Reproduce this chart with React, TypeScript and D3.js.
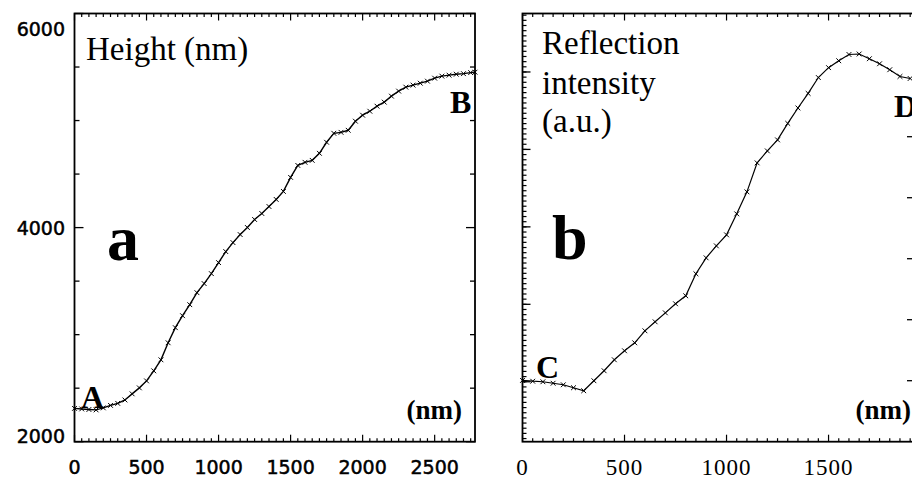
import React from 'react';
import * as d3 from 'd3';

// Panel a: height profile (nm)
const heightX = [0, 50, 100, 150, 200, 250, 300, 350, 400, 450, 500, 550, 600, 650, 700, 750, 800, 850, 900, 950, 1000, 1050, 1100, 1150, 1200, 1250, 1300, 1350, 1400, 1450, 1500, 1550, 1600, 1650, 1700, 1750, 1800, 1850, 1900, 1950, 2000, 2050, 2100, 2150, 2200, 2250, 2300, 2350, 2400, 2450, 2500, 2550, 2600, 2650, 2700, 2750, 2780];
const heightNm = [2311, 2306, 2301, 2297, 2316, 2339, 2358, 2390, 2447, 2503, 2568, 2662, 2765, 2924, 3065, 3177, 3280, 3392, 3477, 3570, 3673, 3776, 3860, 3935, 4001, 4076, 4132, 4197, 4263, 4338, 4469, 4581, 4610, 4628, 4694, 4797, 4881, 4890, 4909, 4994, 5050, 5087, 5134, 5172, 5228, 5275, 5312, 5331, 5349, 5368, 5396, 5415, 5424, 5433, 5438, 5448, 5452];

// Panel b: reflection intensity (a.u.)
const reflX = [0, 50, 100, 150, 200, 250, 300, 350, 400, 450, 500, 550, 600, 650, 700, 750, 800, 850, 900, 950, 1000, 1050, 1100, 1150, 1200, 1250, 1300, 1350, 1400, 1450, 1500, 1550, 1600, 1650, 1700, 1750, 1800, 1850, 1900];
const reflAU = [1.017, 1.007, 1.0, 0.981, 0.961, 0.923, 0.884, 1.013, 1.142, 1.284, 1.4, 1.503, 1.658, 1.774, 1.89, 2.007, 2.11, 2.394, 2.6, 2.755, 2.897, 3.168, 3.452, 3.826, 3.981, 4.123, 4.336, 4.535, 4.723, 4.928, 5.056, 5.145, 5.226, 5.232, 5.171, 5.106, 5.029, 4.942, 4.916];

const heightYLabels = [2000, 4000, 6000];
const heightXLabels = [0, 500, 1000, 1500, 2000, 2500];
const reflXLabels = [0, 500, 1000, 1500];

const W = 912;
const H = 483;
const TOP = 13.5;
const BOT = 441.7;

function Cross({ x, y }: { x: number; y: number }) {
  const s = 2.4;
  return (
    <path d={`M${x - s},${y - s}L${x + s},${y + s}M${x - s},${y + s}L${x + s},${y - s}`} stroke="#000" strokeWidth={1} />
  );
}

export default function App() {
  // Panel a scales
  const xA = d3.scaleLinear().domain([0, 2780]).range([74.5, 475]);
  const yA = d3.scaleLinear().domain([2000, 6000]).range([BOT, TOP]);
  // Panel b scales
  const xB = d3.scaleLinear().domain([0, 1909]).range([522.5, 912]);
  const yB = d3.scaleLinear().domain([0.226, 5.755]).range([BOT, TOP]);
  const yB2 = d3.scaleLinear().domain([0, 7.02]).range([BOT, TOP]);

  const lineA = d3.line<number>().x((_, i) => xA(heightX[i])).y((d) => yA(d));
  const lineB = d3.line<number>().x((_, i) => xB(reflX[i])).y((d) => yB(d));

  const aL = xA(0), aR = xA(2780);
  const bL = xB(0), bR = 930;

  const aXMinor = d3.range(0, 2781, 50);
  const aYMinor = d3.range(2000, 6001, 500);
  const bXMinor = d3.range(0, 1951, 50);
  const bYMinor = d3.range(4, 87).map((k) => k / 15).filter((v) => v >= 0.226 && v <= 5.755);
  const bYMajor = [1, 2, 3, 4, 5];
  const bY2Major = [1, 2, 3, 4, 5];

  const tickFontA: React.CSSProperties = { fontFamily: 'DejaVu Sans', fontSize: 19 };
  const tickFontB: React.CSSProperties = { fontFamily: 'Liberation Serif', fontSize: 23, letterSpacing: 1 };
  const serif = 'Liberation Serif';

  return (
    <svg width={W} height={H} style={{ position: 'absolute', left: 0, top: 0, background: '#fff' }}>
      <rect x={0} y={0} width={W} height={H} fill="#fff" />
      {/* ---------- Panel a ---------- */}
      <g>
        {aXMinor.map((v) => {
          const major = v % 500 === 0;
          const len = major ? 7 : 3.5;
          return (
            <g key={`ax${v}`}>
              <line x1={xA(v)} x2={xA(v)} y1={BOT} y2={BOT - len} stroke="#000" strokeWidth={1.2} />
              <line x1={xA(v)} x2={xA(v)} y1={TOP} y2={TOP + len} stroke="#000" strokeWidth={1.2} />
            </g>
          );
        })}
        {aYMinor.map((v) => {
          const major = v % 2000 === 0;
          const len = major ? 9 : 5;
          return (
            <g key={`ay${v}`}>
              <line x1={aL} x2={aL + len} y1={yA(v)} y2={yA(v)} stroke="#000" strokeWidth={1.3} />
              <line x1={aR} x2={aR - len} y1={yA(v)} y2={yA(v)} stroke="#000" strokeWidth={1.3} />
            </g>
          );
        })}
        <rect x={aL} y={TOP} width={aR - aL} height={BOT - TOP} fill="none" stroke="#000" strokeWidth={1.8} />
        {heightXLabels.map((v) => (
          <text key={`axl${v}`} x={xA(v)} y={474} textAnchor="middle" style={tickFontA} fill="#000" stroke="#000" strokeWidth={0.5}>
            {v}
          </text>
        ))}
        {heightYLabels.map((v) => (
          <text
            key={`ayl${v}`}
            x={65}
            y={v === 6000 ? yA(v) + 22 : v === 2000 ? yA(v) + 1.5 : yA(v) + 7}
            textAnchor="end"
            style={tickFontA}
            fill="#000"
            stroke="#000"
            strokeWidth={0.5}
          >
            {v}
          </text>
        ))}
        <path d={lineA(heightNm) || ''} fill="none" stroke="#000" strokeWidth={1.4} />
        {heightNm.map((d, i) => (
          <Cross key={`ac${i}`} x={xA(heightX[i])} y={yA(d)} />
        ))}
        <text x={86} y={60} style={{ fontFamily: serif, fontSize: 33 }} fill="#000">Height (nm)</text>
        <text x={107} y={260} style={{ fontFamily: serif, fontSize: 64, fontWeight: 'bold' }} fill="#000">a</text>
        <text x={81} y={408} style={{ fontFamily: serif, fontSize: 32, fontWeight: 'bold' }} fill="#000">A</text>
        <text x={450} y={113} style={{ fontFamily: serif, fontSize: 32, fontWeight: 'bold' }} fill="#000">B</text>
        <text x={462} y={419} textAnchor="end" style={{ fontFamily: serif, fontSize: 27, fontWeight: 'bold' }} fill="#000">(nm)</text>
      </g>

      {/* ---------- Panel b ---------- */}
      <g>
        {bXMinor.map((v) => {
          const major = v % 500 === 0;
          const len = major ? 7 : 3.5;
          return (
            <g key={`bx${v}`}>
              <line x1={xB(v)} x2={xB(v)} y1={BOT} y2={BOT - len} stroke="#000" strokeWidth={1.2} />
              <line x1={xB(v)} x2={xB(v)} y1={TOP} y2={TOP + len} stroke="#000" strokeWidth={1.2} />
            </g>
          );
        })}
        {bYMinor.map((v, i) => (
          <line key={`bym${i}`} x1={bL} x2={bL + 4} y1={yB(v)} y2={yB(v)} stroke="#000" strokeWidth={1.2} />
        ))}
        {bYMajor.map((v) => (
          <line key={`byM${v}`} x1={bL} x2={bL + 8} y1={yB(v)} y2={yB(v)} stroke="#000" strokeWidth={1.3} />
        ))}
        {bY2Major.map((v) => (
          <line key={`by2${v}`} x1={916} x2={907} y1={yB2(v)} y2={yB2(v)} stroke="#000" strokeWidth={1.3} />
        ))}
        <rect x={bL} y={TOP} width={bR - bL} height={BOT - TOP} fill="none" stroke="#000" strokeWidth={1.8} />
        {reflXLabels.map((v) => (
          <text key={`bxl${v}`} x={xB(v)} y={475} textAnchor="middle" style={tickFontB} fill="#000">
            {v}
          </text>
        ))}
        <path d={lineB(reflAU) || ''} fill="none" stroke="#000" strokeWidth={1.2} />
        {reflAU.map((d, i) => (
          <Cross key={`bc${i}`} x={xB(reflX[i])} y={yB(d)} />
        ))}
        <text style={{ fontFamily: serif, fontSize: 33 }} fill="#000">
          <tspan x={542} y={54}>Reflection</tspan>
          <tspan x={542} y={94}>intensity</tspan>
          <tspan x={542} y={132}>(a.u.)</tspan>
        </text>
        <text x={552} y={259} style={{ fontFamily: serif, fontSize: 64, fontWeight: 'bold' }} fill="#000">b</text>
        <text x={536} y={378} style={{ fontFamily: serif, fontSize: 32, fontWeight: 'bold' }} fill="#000">C</text>
        <text x={894} y={117} style={{ fontFamily: serif, fontSize: 32, fontWeight: 'bold' }} fill="#000">D</text>
        <text x={911} y={419} textAnchor="end" style={{ fontFamily: serif, fontSize: 27, fontWeight: 'bold' }} fill="#000">(nm)</text>
      </g>
    </svg>
  );
}
